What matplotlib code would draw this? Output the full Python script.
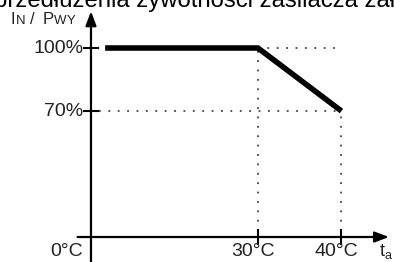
import matplotlib
matplotlib.use("Agg")
import matplotlib.pyplot as plt

plt.rcParams["font.family"] = ["Liberation Sans", "DejaVu Sans"]

# schematic x positions (axis is not to scale): 0°C, 30°C, 40°C
x_ticks = [0, 2, 3]
x_labels = ["0°C", "30°C", "40°C"]
y_ticks = [100, 70]
y_labels = ["100%", "70%"]

# derating curve
curve_x = [0.17, 2, 3]
curve_y = [100, 100, 70]

title_text = "przedłużenia żywotności zasilacza zał"

fig = plt.figure(figsize=(3.94, 2.62), dpi=100)
ax = fig.add_axes([0, 0, 1, 1])
ax.set_xlim(-1.09, 3.63)
ax.set_ylim(-1.9, 122.86)
ax.axis("off")

ink = "#222222"

# axes with arrows
ax.annotate("", xy=(3.57, 10), xytext=(-0.16, 10),
            arrowprops=dict(arrowstyle="-|>,head_length=0.85,head_width=0.32",
                            color="black", lw=1.6, shrinkA=0, shrinkB=0))
ax.annotate("", xy=(0, 117.5), xytext=(0, -2.5),
            arrowprops=dict(arrowstyle="-|>,head_length=0.85,head_width=0.32",
                            color="black", lw=1.6, shrinkA=0, shrinkB=0))

# dotted guides
dot = dict(color="#444444", lw=1.3, linestyle=(0, (1, 4.2)))
ax.plot([x_ticks[1], x_ticks[2]], [y_ticks[0], y_ticks[0]], **dot)
ax.plot([0.09, x_ticks[2]], [y_ticks[1], y_ticks[1]], **dot)
ax.plot([x_ticks[1], x_ticks[1]], [13, y_ticks[0]], **dot)
ax.plot([x_ticks[2], x_ticks[2]], [13, y_ticks[1]], **dot)

# tick marks
for yv in y_ticks:
    ax.plot([-0.08, 0.08], [yv, yv], color="black", lw=1.5)
for xv in x_ticks[1:]:
    ax.plot([xv, xv], [6.5, 13.5], color="black", lw=1.5)

# curve
ax.plot(curve_x, curve_y, color="black", lw=4, solid_capstyle="butt",
        solid_joinstyle="miter")

# tick labels
for yv, lab in zip(y_ticks, y_labels):
    ax.text(-0.09, yv, lab, ha="right", va="center", fontsize=14, color=ink)
for xv, lab in zip(x_ticks, x_labels):
    ax.text(xv - (0.29 if xv == 0 else 0.06), 3.3, lab, ha="center", va="center",
            fontsize=14, color=ink)

# y axis label in small-caps style: I_N / P_WY
label_parts = [("I", -0.96, 12), ("N", -0.9, 9.5), ("/", -0.73, 12),
               ("P", -0.58, 12), ("W", -0.445, 9.5), ("Y", -0.29, 9.5)]
for txt, xpos, size in label_parts:
    ax.text(xpos, 111.6, txt, fontsize=size, ha="left", va="baseline", color=ink)

t = ax.text(3.46, 3.0, "t", fontsize=13, ha="left", va="center", color=ink)
ax.annotate("a", xy=(1, 0), xycoords=t, xytext=(0, -1), textcoords="offset points",
            ha="left", va="bottom", fontsize=9, color=ink)

# heading, cut off by the top edge
ax.text(-1.16, 119.5, title_text, fontsize=17.2, ha="left", va="baseline",
        color="black")

fig.savefig("out.png", dpi=100)
